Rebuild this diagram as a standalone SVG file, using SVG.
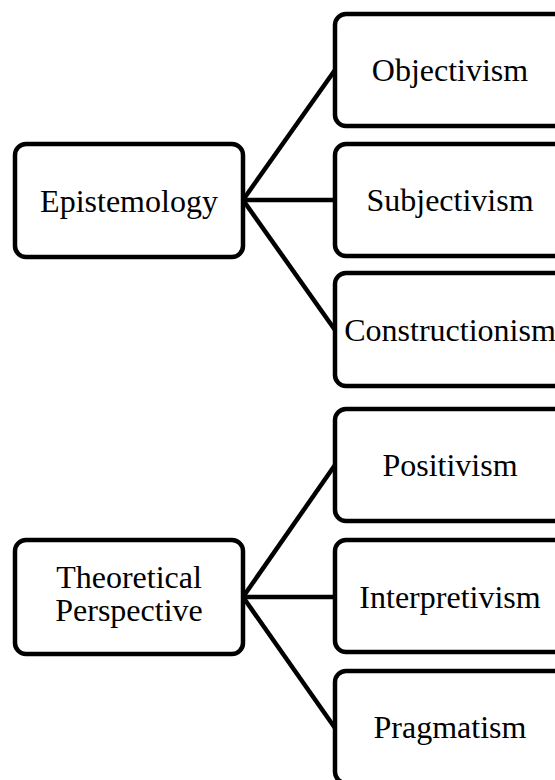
<svg xmlns="http://www.w3.org/2000/svg" width="555" height="780" viewBox="0 0 555 780">
  <style>
    .box { fill: #ffffff; stroke: #000000; stroke-width: 4.5; }
    .lbl { font-family: "Liberation Serif", "Times New Roman", serif; font-size: 32px; fill: #000000; text-anchor: middle; }
    .link { stroke: #000000; stroke-width: 4.5; fill: none; }
  </style>
  <rect width="555" height="780" fill="#ffffff"/>

  <g id="connectors">
    <line class="link" x1="243" y1="200" x2="335" y2="70"/>
    <line class="link" x1="243" y1="200" x2="335" y2="200"/>
    <line class="link" x1="243" y1="200" x2="335" y2="330"/>
    <line class="link" x1="243" y1="597" x2="335" y2="465"/>
    <line class="link" x1="243" y1="597" x2="335" y2="597"/>
    <line class="link" x1="243" y1="597" x2="335" y2="728"/>
  </g>

  <g id="epistemology">
    <rect class="box" x="15" y="144" width="228" height="113" rx="11"/>
    <text class="lbl" x="129" y="212">Epistemology</text>
  </g>
  <g id="objectivism">
    <rect class="box" x="335" y="14" width="240" height="112" rx="11"/>
    <text class="lbl" x="450" y="81">Objectivism</text>
  </g>
  <g id="subjectivism">
    <rect class="box" x="335" y="144" width="240" height="112" rx="11"/>
    <text class="lbl" x="450" y="211">Subjectivism</text>
  </g>
  <g id="constructionism">
    <rect class="box" x="335" y="273" width="240" height="113" rx="11"/>
    <text class="lbl" x="450" y="341">Constructionism</text>
  </g>

  <g id="theoretical-perspective">
    <rect class="box" x="15" y="540" width="228" height="114" rx="11"/>
    <text class="lbl" x="129" y="588">Theoretical</text>
    <text class="lbl" x="129" y="621">Perspective</text>
  </g>
  <g id="positivism">
    <rect class="box" x="335" y="409" width="240" height="112" rx="11"/>
    <text class="lbl" x="450" y="476">Positivism</text>
  </g>
  <g id="interpretivism">
    <rect class="box" x="335" y="540" width="240" height="112" rx="11"/>
    <text class="lbl" x="450" y="608">Interpretivism</text>
  </g>
  <g id="pragmatism">
    <rect class="box" x="335" y="671" width="240" height="112" rx="11"/>
    <text class="lbl" x="450" y="738">Pragmatism</text>
  </g>
</svg>
